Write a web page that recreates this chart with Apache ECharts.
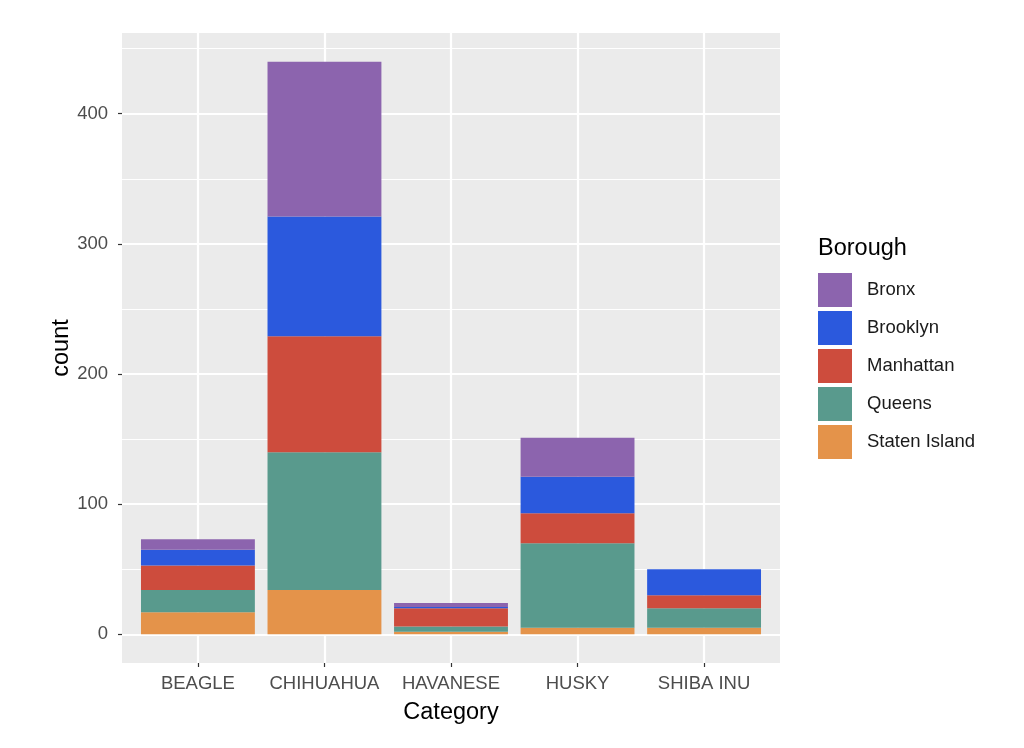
<!DOCTYPE html>
<html><head><meta charset="utf-8">
<script src="https://cdn.jsdelivr.net/npm/echarts@6/dist/echarts.min.js"></script>
<style>html,body{margin:0;padding:0;background:#fff}#c{width:1024px;height:748px}</style>
</head><body><div id="c"></div>
<script>
const categories = ['BEAGLE', 'CHIHUAHUA', 'HAVANESE', 'HUSKY', 'SHIBA INU'];
const categoryPositions = [1, 2, 3, 4, 5];
const boroughs = ['Bronx', 'Brooklyn', 'Manhattan', 'Queens', 'Staten Island'];
const bronx = [8, 119, 3, 30, 0];
const brooklyn = [12, 92, 1, 28, 20];
const manhattan = [19, 89, 14, 23, 10];
const queens = [17, 106, 4, 65, 15];
const statenIsland = [17, 34, 2, 5, 5];
const yMajorTicks = [0, 100, 200, 300, 400];
const yMinorTicks = [50, 150, 250, 350, 450];

const seriesValues = {
  'Bronx': bronx, 'Brooklyn': brooklyn, 'Manhattan': manhattan,
  'Queens': queens, 'Staten Island': statenIsland
};
const colors = {
  'Bronx': '#8C64AE', 'Brooklyn': '#2B59DD', 'Manhattan': '#CD4C3D',
  'Queens': '#599A8D', 'Staten Island': '#E4934A'
};

const W = 1024, H = 748;
const panel = { left: 122, right: 780, top: 33, bottom: 663 };
const yMin = -22, yMax = 462;
const xMin = 0.4, xMax = 5.6;
const band = (panel.right - panel.left) / (xMax - xMin);
const pad = band * 0.1;
const FONT = 'Liberation Sans, Arial, sans-serif';
const TICK_FS = 18.5, TITLE_FS = 23.5;

const chart = echarts.init(document.getElementById('c'), null, { renderer: 'canvas' });

const stackOrder = boroughs.slice().reverse(); // bottom first
const series = stackOrder.map(b => ({
  name: b,
  type: 'bar',
  xAxisIndex: 1,
  yAxisIndex: 2,
  stack: 'total',
  barCategoryGap: '10%',
  itemStyle: { color: colors[b] },
  emphasis: { disabled: true },
  data: seriesValues[b]
}));

chart.setOption({
  animation: false,
  textStyle: { fontFamily: FONT },
  title: {
    text: 'Borough', left: 818, top: 237, padding: 0,
    textStyle: { fontSize: TITLE_FS, fontWeight: 'normal', color: '#000', fontFamily: FONT }
  },
  legend: {
    data: boroughs, orient: 'vertical', left: 818, top: 273, padding: 0,
    itemWidth: 34, itemHeight: 34, itemGap: 4, icon: 'rect',
    selectedMode: false,
    textStyle: { fontSize: TICK_FS, color: '#1a1a1a', padding: [0, 0, 0, 10], fontFamily: FONT }
  },
  grid: [
    { left: panel.left, right: W - panel.right, top: panel.top, bottom: H - panel.bottom,
      show: true, backgroundColor: '#EBEBEB', borderWidth: 0, containLabel: false },
    { left: panel.left + pad, right: W - panel.right + pad, top: panel.top, bottom: H - panel.bottom,
      containLabel: false }
  ],
  xAxis: [
    { type: 'value', gridIndex: 0, min: xMin, max: xMax, position: 'bottom',
      axisLine: { show: false, onZero: false },
      axisTick: { show: true, customValues: categoryPositions, length: 4, lineStyle: { color: '#333', width: 1.2 } },
      axisLabel: { customValues: categoryPositions, color: '#4D4D4D', fontSize: TICK_FS, margin: 11,
        formatter: v => categories[Math.round(v) - 1] || '' },
      splitLine: { show: true, lineStyle: { color: '#fff', width: 2.2 } },
      name: 'Category', nameLocation: 'middle', nameGap: 38, nameMoveOverlap: false,
      nameTextStyle: { fontSize: TITLE_FS, color: '#000' }
    },
    { type: 'category', gridIndex: 1, data: categories, show: false }
  ],
  yAxis: [
    { type: 'value', gridIndex: 0, min: yMin, max: yMax,
      axisLine: { show: false, onZero: false },
      axisTick: { show: true, customValues: yMajorTicks, length: 4, lineStyle: { color: '#333', width: 1.2 } },
      axisLabel: { customValues: yMajorTicks, color: '#4D4D4D', fontSize: TICK_FS, margin: 14 },
      splitLine: { show: true, lineStyle: { color: '#fff', width: 2.2 } },
      name: 'count', nameLocation: 'middle', nameGap: 48, nameRotate: 90, nameMoveOverlap: false,
      nameTextStyle: { fontSize: TITLE_FS, color: '#000' }
    },
    { type: 'value', gridIndex: 0, min: yMin, max: yMax, position: 'right',
      axisLine: { show: false, onZero: false },
      axisTick: { show: false, customValues: yMinorTicks },
      axisLabel: { show: false, customValues: yMinorTicks },
      splitLine: { show: true, lineStyle: { color: '#fff', width: 1.1 } }
    },
    { type: 'value', gridIndex: 1, min: yMin, max: yMax, show: false, splitLine: { show: false } }
  ],
  series: series
});
</script></body></html>
